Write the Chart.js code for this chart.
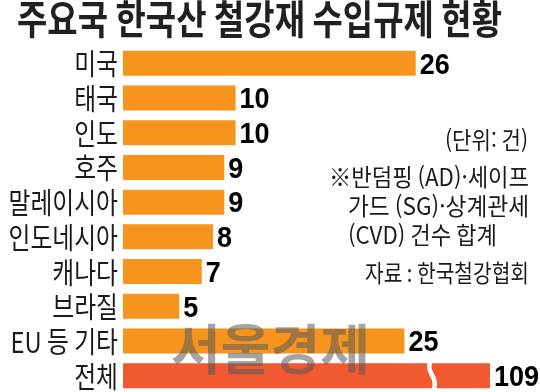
<!DOCTYPE html>
<html lang="ko">
<head>
<meta charset="utf-8">
<title>주요국 한국산 철강재 수입규제 현황</title>
<script src="https://cdn.jsdelivr.net/npm/chart.js@4.4.1/dist/chart.umd.min.js"></script>
<style>
  html, body { margin: 0; padding: 0; background: #fff; overflow: hidden; }
  canvas { display: block; }
</style>
</head>
<body>
<canvas id="chart" width="540" height="393"></canvas>
<script>
// 주요국 한국산 철강재 수입규제 현황 (단위: 건)
const title = '주요국 한국산 철강재 수입규제 현황';
const countries = ['미국', '태국', '인도', '호주', '말레이시아', '인도네시아', '캐나다', '브라질', 'EU 등 기타', '전체'];
const cases = [26, 10, 10, 9, 9, 8, 7, 5, 25, 109];
const unitNote = '(단위: 건)';
const footnote = ['※반덤핑 (AD)·세이프', '가드 (SG)·상계관세', '(CVD) 건수 합계'];
const source = '자료 : 한국철강협회';
const watermark = '서울경제';

const ORANGE = '#F7941D';
const RED = '#F15A30';
const INK = '#1b1b1b';
const KR = '"Noto Sans CJK KR", "Noto Sans", sans-serif';
const NUM = '"Liberation Sans", Arial, sans-serif';

function textWidth(ctx, text, font) {
  ctx.save();
  ctx.font = font;
  const w = ctx.measureText(text).width;
  ctx.restore();
  return w;
}

// Draws horizontally condensed text (scaleX < 1)
function condensed(ctx, text, x, y, font, color, align, sx) {
  ctx.save();
  ctx.font = font;
  ctx.fillStyle = color;
  ctx.textAlign = align;
  ctx.textBaseline = 'middle';
  ctx.translate(x, y);
  ctx.scale(sx, 1);
  ctx.fillText(text, 0, 0);
  ctx.restore();
}

// Draws text squeezed to a given overall width
function fitted(ctx, text, x, y, font, color, align, width) {
  condensed(ctx, text, x, y, font, color, align, width / textWidth(ctx, text, font));
}

const annotate = {
  id: 'annotate',
  afterDatasetsDraw(chart) {
    const ctx = chart.ctx;
    const area = chart.chartArea;
    const meta = chart.getDatasetMeta(0);
    const xScale = chart.scales.x;

    // break mark on bars that run past the axis maximum
    meta.data.forEach((bar, i) => {
      if (cases[i] <= xScale.max) return;
      const h = bar.height;
      const top = bar.y - h / 2 - 1;
      const bot = bar.y + h / 2 + 1;
      const cx = area.right - 58;
      ctx.save();
      ctx.strokeStyle = '#fff';
      ctx.lineWidth = 4.5;
      ctx.beginPath();
      ctx.moveTo(cx - 2, top);
      ctx.bezierCurveTo(cx - 6, top + h * 0.45, cx + 6, top + h * 0.55, cx + 2, bot);
      ctx.stroke();
      ctx.restore();
    });

    // watermark
    ctx.save();
    ctx.globalAlpha = 0.55;
    fitted(ctx, watermark, 171, 349, 'bold 54px ' + KR, '#5a5a5a', 'left', 199);
    ctx.restore();

    // title
    fitted(ctx, title, 17, 19, 'bold 40px ' + KR, '#231f20', 'left', 485);

    // category labels and values
    meta.data.forEach((bar, i) => {
      condensed(ctx, countries[i], area.left - 5, bar.y + 1, '29px ' + KR, INK, 'right', 0.82);
      const end = Math.min(bar.x, area.right);
      condensed(ctx, String(cases[i]), end + 4, bar.y + 2, 'bold 30px ' + NUM, '#000', 'left', 0.9);
    });

    // notes
    const nFont = '24px ' + KR;
    fitted(ctx, unitNote, 528, 140, nFont, INK, 'right', 83);
    fitted(ctx, footnote[0], 529, 177, nFont, INK, 'right', 200);
    fitted(ctx, footnote[1], 348, 206, nFont, INK, 'left', 181);
    fitted(ctx, footnote[2], 348, 235, nFont, INK, 'left', 149);
    fitted(ctx, source, 529, 273, nFont, INK, 'right', 164);
  }
};

new Chart(document.getElementById('chart'), {
  type: 'bar',
  data: {
    labels: countries,
    datasets: [{
      data: cases,
      backgroundColor: (c) => (c.dataIndex === countries.length - 1 ? RED : ORANGE),
      borderWidth: 0,
      barPercentage: 0.72,
      categoryPercentage: 1,
      clip: 0
    }]
  },
  options: {
    indexAxis: 'y',
    responsive: false,
    animation: false,
    devicePixelRatio: 1,
    layout: { padding: { left: 123, right: 50, top: 46, bottom: 0 } },
    scales: {
      x: { display: false, min: 0, max: 32.6 },
      y: { display: false }
    },
    plugins: {
      legend: { display: false },
      tooltip: { enabled: false },
      title: { display: false }
    }
  },
  plugins: [annotate]
});
</script>
</body>
</html>
